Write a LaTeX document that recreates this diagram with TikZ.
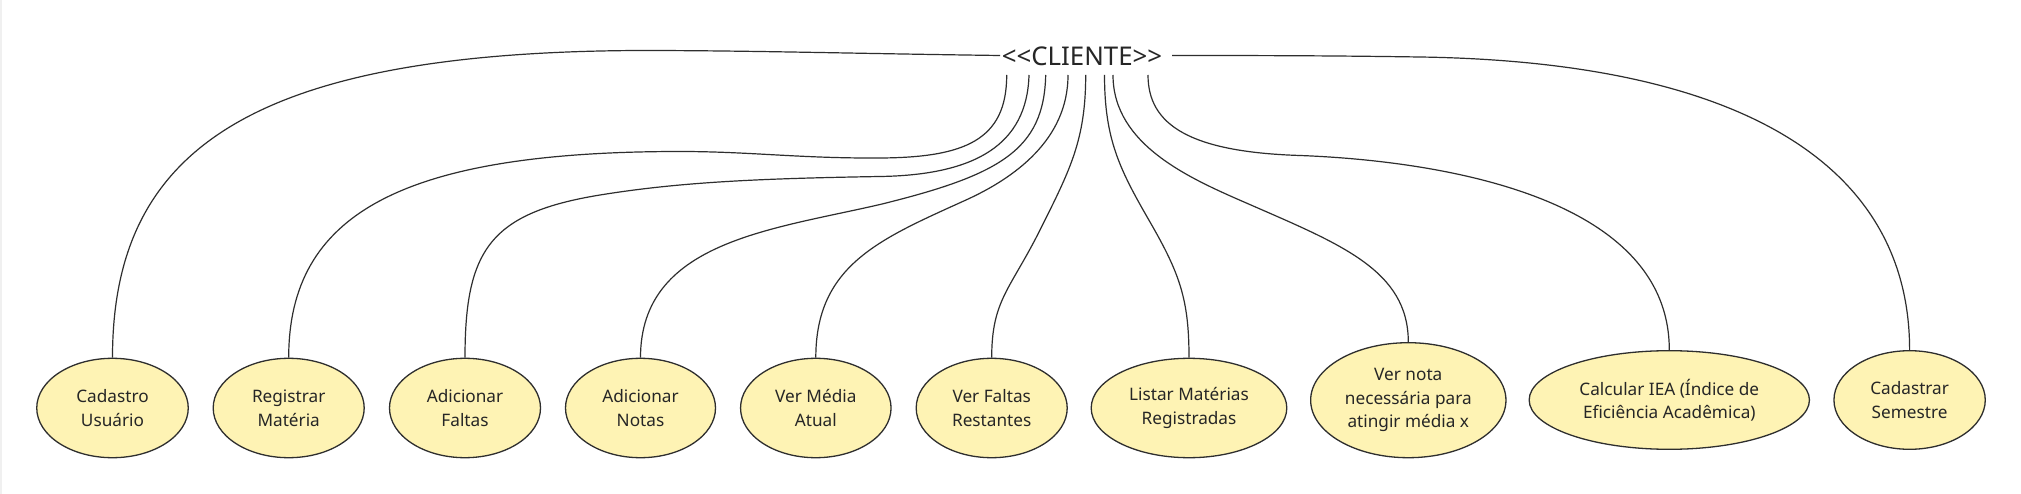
\documentclass[tikz,border=0pt]{standalone}
\usepackage{fontspec}
\setmainfont{Noto Sans}
\usetikzlibrary{shapes.geometric}
\definecolor{ucfill}{HTML}{FEF3B4}
\definecolor{ucline}{HTML}{2E2E2E}
\definecolor{uctext}{HTML}{262626}
\tikzset{
  usecase/.style={ellipse, draw=ucline, fill=ucfill, line width=1.3pt, inner sep=0pt,
    align=center, text=uctext, font=\fontsize{17.2}{23.5}\selectfont},
  link/.style={draw=ucline, line width=1.2pt},
}
\begin{document}
\begin{tikzpicture}[x=1pt,y=-1pt]
\useasboundingbox (0,0) rectangle (2021,494);
\fill[white] (0,0) rectangle (2021,494);
\draw[gray!12, line width=2pt] (1,0) -- (1,494);

% actor label
\node[anchor=base, inner sep=0pt, text=uctext, font=\fontsize{25.8}{30}\selectfont] (cli) at (1082,65.7) {<\kern0pt<CLIENTE>\kern0pt>};
\coordinate (cl) at (1000,55.5);
\coordinate (cr) at (1172,55.5);
\coordinate (s2) at (1006.7,75);
\coordinate (s3) at (1029,75);
\coordinate (s4) at (1045.7,75);
\coordinate (s5) at (1068,75);
\coordinate (s6) at (1085.7,75);
\coordinate (s7) at (1104.5,75);
\coordinate (s8) at (1113,75);
\coordinate (s9) at (1148,75);

% use cases
\node[usecase, minimum width=151.5pt, minimum height=99.4pt] (u1) at (112.5,408) {Cadastro\\Usuário};
\node[usecase, minimum width=151pt, minimum height=99.4pt] (u2) at (288.7,408) {Registrar\\Matéria};
\node[usecase, minimum width=151pt, minimum height=99.4pt] (u3) at (465,408) {Adicionar\\Faltas};
\node[usecase, minimum width=150pt, minimum height=99.4pt] (u4) at (640.5,408) {Adicionar\\Notas};
\node[usecase, minimum width=150.5pt, minimum height=99.4pt] (u5) at (815.8,408) {Ver Média\\Atual};
\node[usecase, minimum width=151pt, minimum height=99.4pt] (u6) at (991.7,408) {Ver Faltas\\Restantes};
\node[usecase, minimum width=195.6pt, minimum height=99.4pt] (u7) at (1189,408) {Listar Matérias\\Registradas};
\node[usecase, minimum width=195.3pt, minimum height=115pt] (u8) at (1408.3,400.2) {Ver nota\\necessária para\\atingir média x};
\node[usecase, minimum width=280.3pt, minimum height=98.6pt] (u9) at (1669.3,400) {Calcular IEA (Índice de\\Eficiência Acadêmica)};
\node[usecase, minimum width=151.3pt, minimum height=98.6pt] (u10) at (1909.6,400) {Cadastrar\\Semestre};

% connectors
\draw[link] (cl) .. controls (850,53.5) and (750,50.5) .. (640,50.5)
  .. controls (250,52) and (u1.north |- 0,150) .. (u1.north);
\draw[link] (s2) .. controls (1006.7,140) and (965,157.5) .. (880,158)
  .. controls (800,158.5) and (750,151.5) .. (680,151.5)
  .. controls (400,151.5) and (u2.north |- 0,215) .. (u2.north);
\draw[link] (s3) .. controls (1027,145) and (975,175) .. (880,176.5)
  .. controls (760,178.5) and (680,182) .. (600,195)
  .. controls (490,213) and (u3.north |- 0,250) .. (u3.north);
\draw[link] (s4) .. controls (1044,150) and (1000,175) .. (880,204.5)
  .. controls (770,230) and (u4.north |- 0,242) .. (u4.north);
\draw[link] (s5) .. controls (1068,140) and (1013.7,178.3) .. (966,200)
  .. controls (880,239) and (u5.north |- 0,265) .. (u5.north);
\draw[link] (s6) .. controls (1085.7,140) and (1070,170) .. (1040,230)
  .. controls (1010,290) and (u6.north |- 0,300) .. (u6.north);
\draw[link] (s7) .. controls (1104.5,140) and (1120,170) .. (1150,222)
  .. controls (1180,274) and (u7.north |- 0,300) .. (u7.north);
\draw[link] (s8) .. controls (1113,145) and (1190,178.5) .. (1247,203.3)
  .. controls (1340,244) and (u8.north |- 0,270) .. (u8.north);
\draw[link] (s9) .. controls (1148,125) and (1190,152) .. (1300,155.5)
  .. controls (1420,160) and (u9.north |- 0,190) .. (u9.north);
\draw[link] (cr) .. controls (1300,55.5) and (1350,56) .. (1420,57)
  .. controls (1750,62) and (u10.north |- 0,170) .. (u10.north);
\end{tikzpicture}
\end{document}
